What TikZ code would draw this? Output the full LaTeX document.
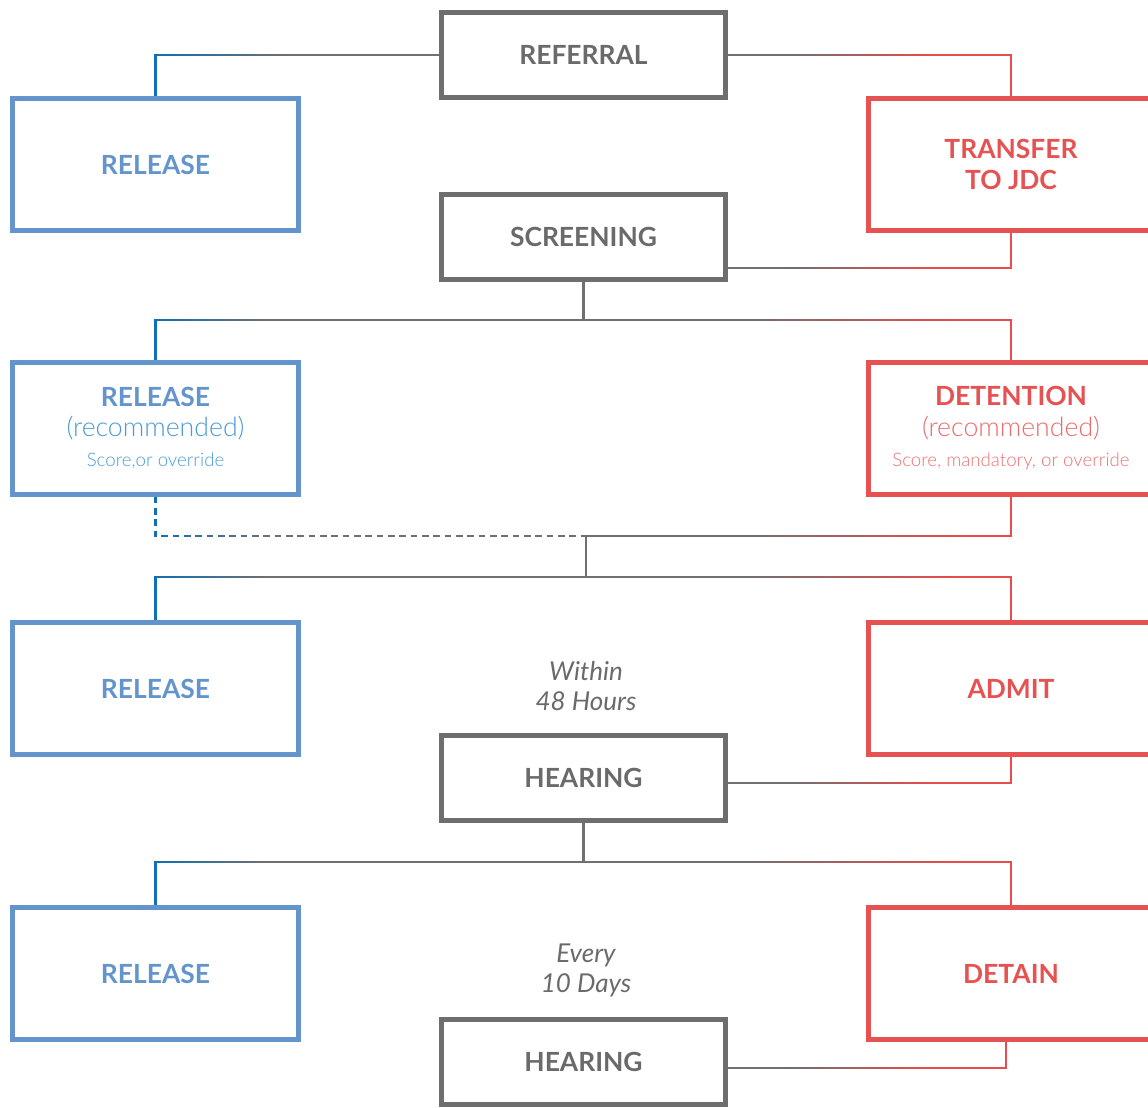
\documentclass[tikz,border=0pt]{standalone}
\usepackage{fontspec}
\setmainfont{Lato}
\newfontfamily\latolight{Lato Light}
\usetikzlibrary{calc, fadings}

\definecolor{boxgray}{HTML}{6E6E6E}
\definecolor{textgray}{HTML}{6A6A6A}
\definecolor{boxblue}{HTML}{6394CC}
\definecolor{recblue}{HTML}{4A9AD4}
\definecolor{smallblue}{HTML}{4A9CD8}
\definecolor{boxred}{HTML}{E65252}
\definecolor{recred}{HTML}{EC6A6A}
\definecolor{smallred}{HTML}{EE7070}
\definecolor{lngray}{HTML}{707070}
\definecolor{lnblue}{HTML}{0F6FB8}
\definecolor{lnred}{HTML}{E84C4C}

% fadings for the coloured ends of the connectors
\pgfdeclarehorizontalshading{fadeLsSh}{100bp}{color(0bp)=(white); color(25bp)=(white); color(48bp)=(black); color(100bp)=(black)}
\pgfdeclarefading{fadeLs}{\pgfuseshading{fadeLsSh}}
\pgfdeclarehorizontalshading{fadeLbSh}{100bp}{color(0bp)=(white); color(25bp)=(white); color(38bp)=(black); color(100bp)=(black)}
\pgfdeclarefading{fadeLb}{\pgfuseshading{fadeLbSh}}
\pgfdeclarehorizontalshading{fadeRsSh}{100bp}{color(0bp)=(black); color(36bp)=(black); color(61bp)=(white); color(100bp)=(white)}
\pgfdeclarefading{fadeRs}{\pgfuseshading{fadeRsSh}}
\pgfdeclarehorizontalshading{fadeRbSh}{100bp}{color(0bp)=(black); color(44bp)=(black); color(68bp)=(white); color(100bp)=(white)}
\pgfdeclarefading{fadeRb}{\pgfuseshading{fadeRbSh}}

\begin{document}
\begin{tikzpicture}[
  x=0.75pt, y=-0.75pt,
  graybox/.style={draw=boxgray, line width=3.75pt, minimum width=213pt, minimum height=63.75pt,
    text=textgray, font=\bfseries\fontsize{19.8}{22.8}\selectfont},
  bluebox/.style={draw=boxblue, line width=3.75pt, minimum width=214.5pt, minimum height=99pt,
    text=boxblue, align=center, font=\bfseries\fontsize{19.8}{22.8}\selectfont},
  redbox/.style={draw=boxred, line width=3.75pt, minimum width=214.5pt, minimum height=99pt,
    text=boxred, align=center, font=\bfseries\fontsize{19.8}{22.8}\selectfont},
  note/.style={text=textgray, align=center, font=\itshape\fontsize{19.5}{22.5}\selectfont},
  conn/.style={draw=lngray, line width=1.7pt},
  toblue/.style={conn, postaction={draw=lnblue, path fading=#1}},
  tored/.style={conn, postaction={draw=lnred, path fading=#1}},
  dashconn/.style={toblue=#1, dash pattern=on 5pt off 3.5pt}
]
\useasboundingbox (0,0) rectangle (1148,1107);

% centre column
\node[graybox] (ref)   at (583.5,55)   {REFERRAL};
\node[graybox] (scr)   at (583.5,236.5) {SCREENING};
\node[graybox] (hear1) at (583.5,778)  {HEARING};
\node[graybox] (hear2) at (583.5,1062) {HEARING};

% left column
\node[bluebox] (rel1)   at (155.5,164.5) {RELEASE};
\node[bluebox] (relrec) at (155.5,428) {RELEASE\\
  {\latolight\mdseries\fontsize{20}{22.8}\selectfont\color{recblue}(recommended)}\\
  {\latolight\mdseries\fontsize{14}{22.8}\selectfont\color{smallblue}Score,or override}};
\node[bluebox] (rel3)   at (155.5,688.5) {RELEASE};
\node[bluebox] (rel4)   at (155.5,973.5) {RELEASE};

% right column
\node[redbox] (tjdc)   at (1011,164.5) {TRANSFER\\TO JDC};
\node[redbox] (detrec) at (1011,428) {DETENTION\\
  {\latolight\mdseries\fontsize{20}{22.8}\selectfont\color{recred}(recommended)}\\
  {\latolight\mdseries\fontsize{14}{22.8}\selectfont\color{smallred}Score, mandatory, or override}};
\node[redbox] (admit)  at (1011,688.5) {ADMIT};
\node[redbox] (detain) at (1011,973.5) {DETAIN};

% timing notes
\node[note] (within) at (586,686) {Within\\48 Hours};
\node[note] (every)  at (586,970) {Every\\10 Days};

% junctions
\coordinate (j1) at (583.5,320);
\coordinate (j2) at (586,536);
\coordinate (j3) at (586,577);
\coordinate (j4) at (583.5,862);

% connectors
\draw[toblue=fadeLs] (ref.west) -| (rel1.north);
\draw[tored=fadeRs]  (ref.east) -| (tjdc.north);
\draw[tored=fadeRs]  (tjdc.south) |- ([yshift=10pt]scr.south east);

\draw[conn] (scr.south) -- (j1);
\draw[toblue=fadeLb] (j1) -| (relrec.north);
\draw[tored=fadeRb]  (j1) -| (detrec.north);

\draw[dashconn=fadeLb] (relrec.south) |- (j2);
\draw[tored=fadeRb]    (detrec.south) |- (j2);
\draw[conn] (j2) -- (j3);
\draw[toblue=fadeLb] (j3) -| (rel3.north);
\draw[tored=fadeRb]  (j3) -| (admit.north);
\draw[tored=fadeRs]  (admit.south) |- ([yshift=-4pt]hear1.east);

\draw[conn] (hear1.south) -- (j4);
\draw[toblue=fadeLb] (j4) -| (rel4.north);
\draw[tored=fadeRb]  (j4) -| (detain.north);
\draw[tored=fadeRs]  ([xshift=-4pt]detain.south) |- ([yshift=-4.5pt]hear2.east);

\end{tikzpicture}
\end{document}
